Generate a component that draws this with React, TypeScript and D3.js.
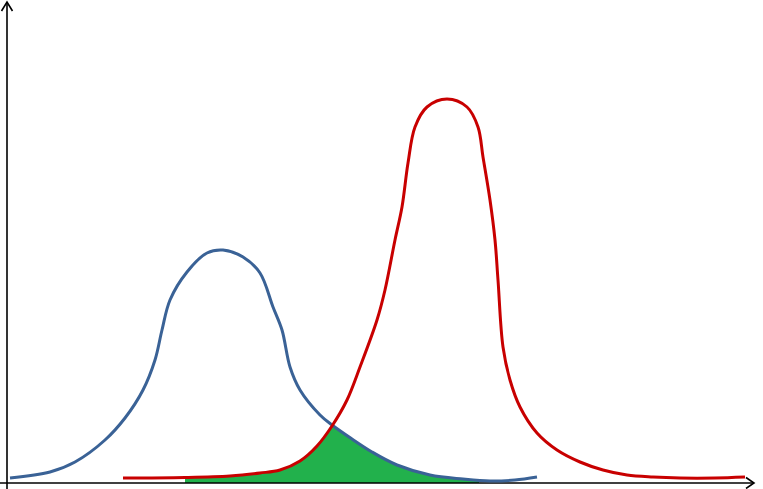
import * as d3 from "d3"

// values (x along the baseline, y above it)
const blueX = [3, 43, 68, 98, 118, 136, 148, 155, 163, 180, 200, 216, 236, 253, 266, 275, 283, 293, 313, 325, 345, 365, 390, 423, 456, 483, 508, 530]
const blueY = [5, 11, 21, 43, 65, 93, 123, 153, 183, 211, 230, 233, 226, 210, 176, 153, 116, 93, 68, 58, 44, 31, 18, 8, 4, 2, 3, 6]

const redX = [116, 178, 223, 253, 273, 293, 310, 325, 340, 353, 370, 378, 388, 395, 401, 408, 420, 440, 460, 471, 476, 483, 488, 491, 496, 503, 513, 530, 550, 573, 596, 620, 646, 673, 708, 738]
const redY = [5, 5.5, 7, 10, 13, 22, 37, 57, 83, 116, 163, 193, 243, 276, 320, 356, 376, 384, 376, 356, 326, 283, 243, 203, 136, 103, 76, 50, 33, 21, 13, 8, 6, 5, 5, 6]

// overlap region is shaded between these
const overlapStart = 178
const overlapEnd = 472

const W = 763
const H = 489

export default function App() {
  const x = d3.scaleLinear().domain([0, 750]).range([7, 757])
  const y = d3.scaleLinear().domain([0, 480]).range([483, 3])

  const blue = blueX.map((v, i) => [v, blueY[i]] as [number, number])
  const red = redX.map((v, i) => [v, redY[i]] as [number, number])

  const curve = d3.curveCatmullRom.alpha(0.5)

  const line = d3
    .line<[number, number]>()
    .x((d) => x(d[0]))
    .y((d) => y(d[1]))
    .curve(curve)

  const area = d3
    .area<[number, number]>()
    .x((d) => x(d[0]))
    .y0(y(0))
    .y1((d) => y(d[1]))
    .curve(curve)

  const x0 = x(-7)
  const x1 = x(747)
  const yTop = y(481)
  const yBase = y(0)
  const yLow = y(-6)

  return (
    <svg width={W} height={H} style={{ position: "absolute", left: 0, top: 0 }}>
      <defs>
        <clipPath id="underRed">
          <path d={area(red) || ""} />
        </clipPath>
        <clipPath id="overlapRange">
          <rect x={x(overlapStart)} y={0} width={x(overlapEnd) - x(overlapStart)} height={yBase} />
        </clipPath>
      </defs>

      {/* shaded overlap */}
      <g clipPath="url(#overlapRange)">
        <path d={area(blue) || ""} fill="#22b14c" clipPath="url(#underRed)" />
      </g>

      {/* axes */}
      <g stroke="#000" strokeWidth={1.6} fill="none">
        <line x1={x(0)} y1={yLow} x2={x(0)} y2={yTop} />
        <line x1={x0} y1={yBase} x2={x1} y2={yBase} />
        <polyline points={`${x(0) - 5.5},${yTop + 9} ${x(0)},${yTop} ${x(0) + 5.5},${yTop + 9}`} />
        <polyline points={`${x1 - 8},${yBase - 5.5} ${x1},${yBase} ${x1 - 8},${yBase + 5.5}`} />
      </g>

      <path d={line(blue) || ""} fill="none" stroke="#3a6296" strokeWidth={3} />
      <path d={line(red) || ""} fill="none" stroke="#c80000" strokeWidth={3} />
    </svg>
  )
}
